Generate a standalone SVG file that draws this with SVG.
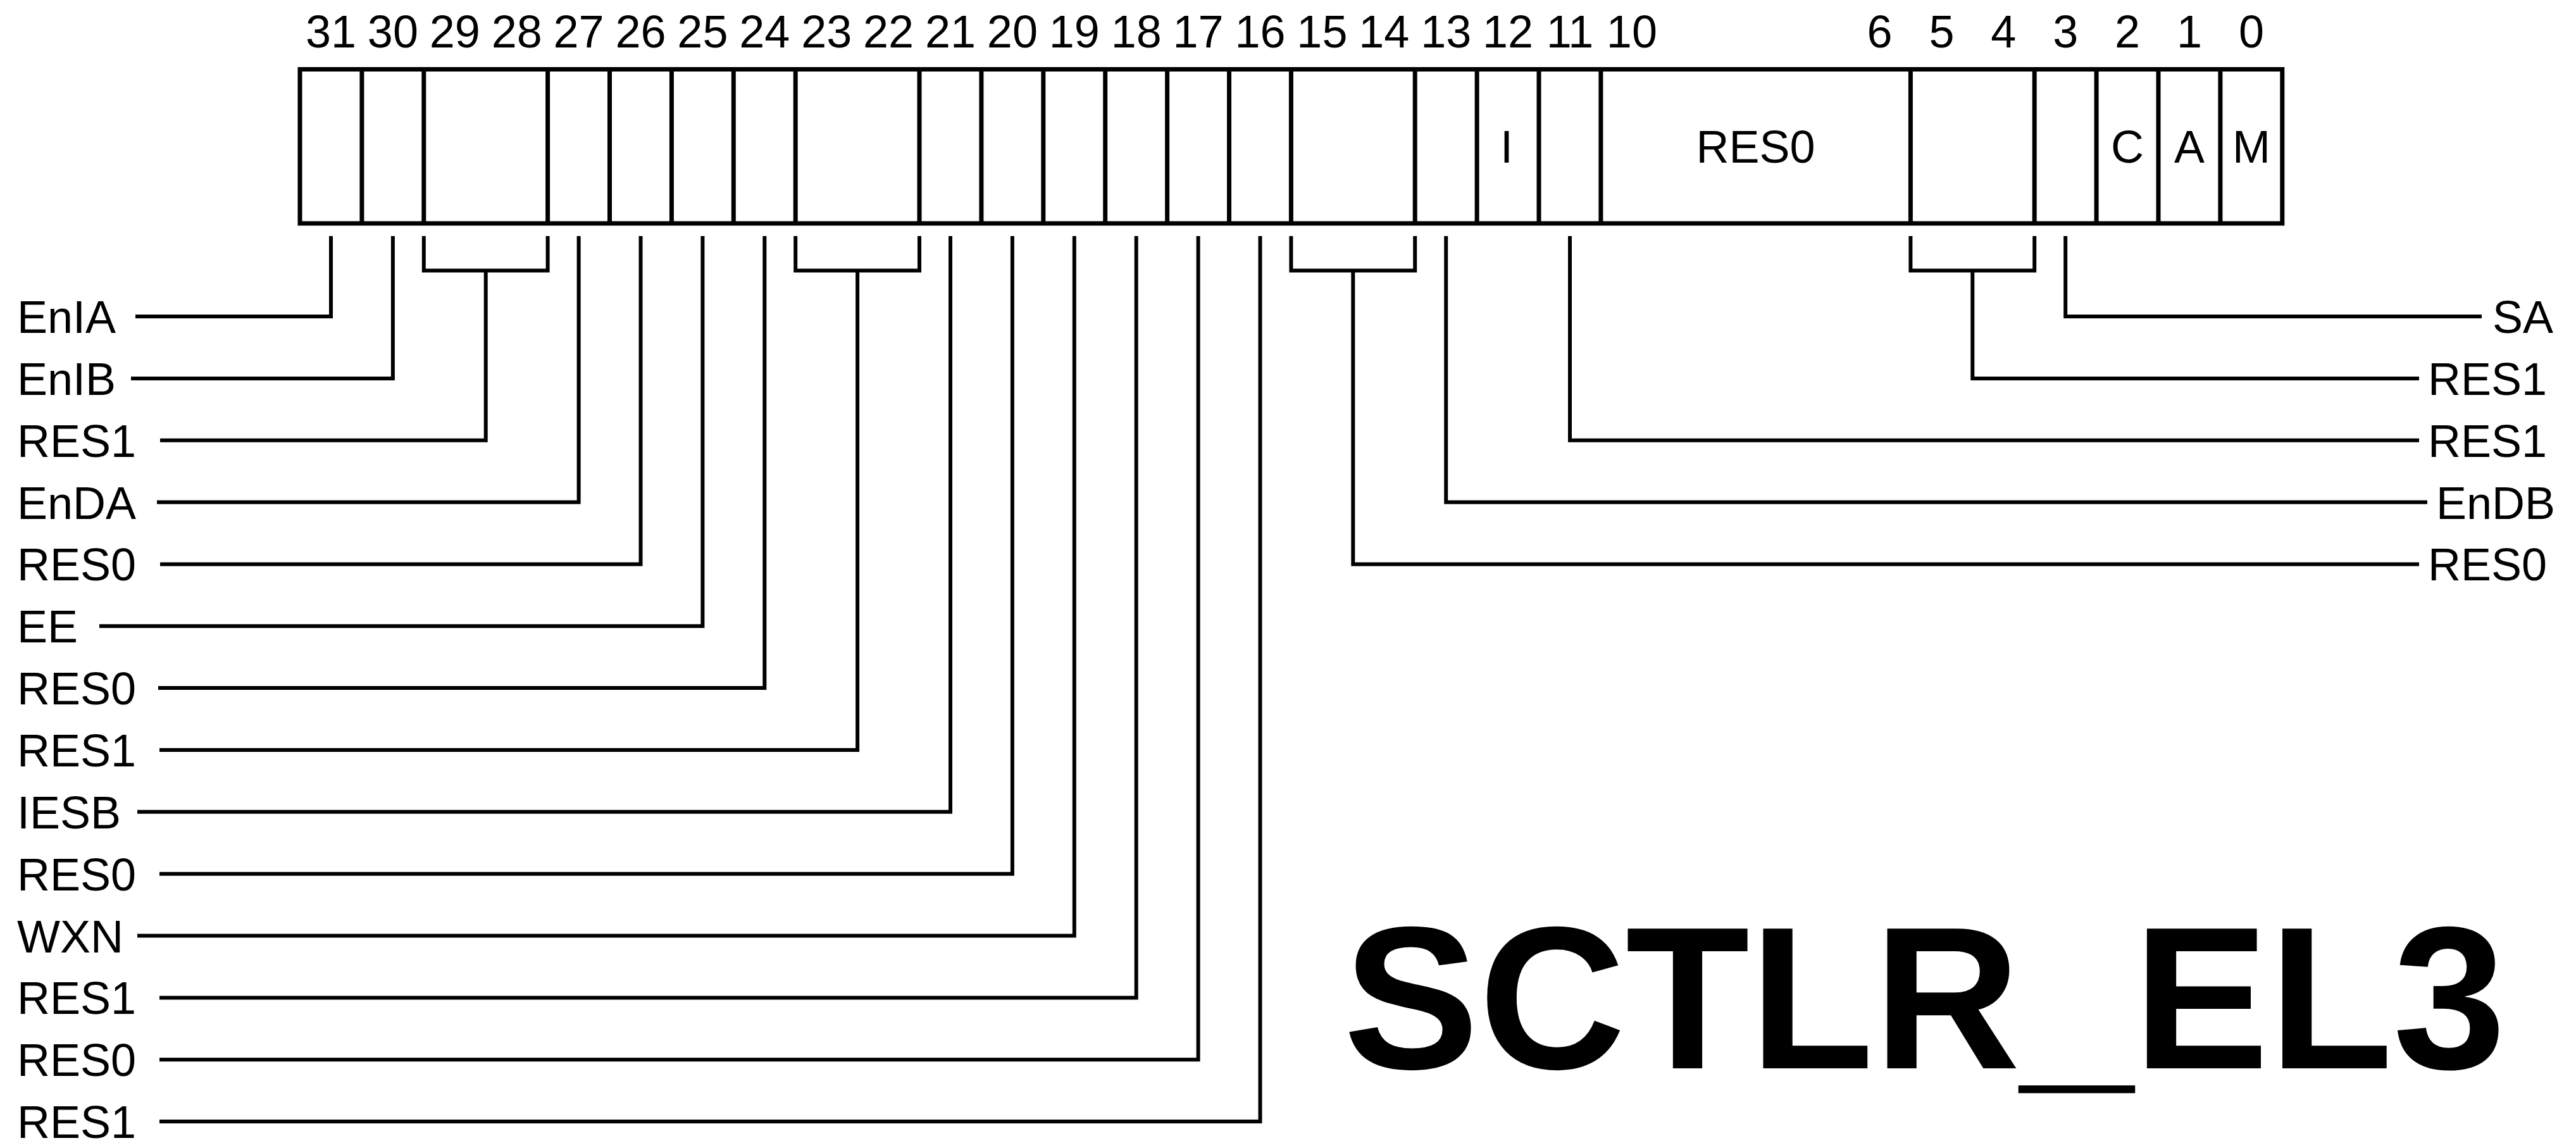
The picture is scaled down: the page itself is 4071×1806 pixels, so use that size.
<svg xmlns="http://www.w3.org/2000/svg" width="4071" height="1806" viewBox="0 0 4071 1806">
<style>
text{font-family:"Liberation Sans",Arial,sans-serif;fill:#000}
.n{font-size:72px;text-anchor:middle}
.l{font-size:72px}
.r{font-size:72px}
.t{font-size:321px;font-weight:bold}
.box{fill:#fff;stroke:#000;stroke-width:7}
.div{stroke:#000;stroke-width:7}
.c{fill:none;stroke:#000;stroke-width:6;stroke-linejoin:miter;stroke-linecap:butt}
</style>
<rect width="4071" height="1806" fill="#fff"/>
<g id="register">
<rect class="box" x="474" y="109.5" width="3132.8" height="243.5"/>
<g class="div">
<line x1="571.9" y1="109.5" x2="571.9" y2="353"/>
<line x1="669.8" y1="109.5" x2="669.8" y2="353"/>
<line x1="865.6" y1="109.5" x2="865.6" y2="353"/>
<line x1="963.5" y1="109.5" x2="963.5" y2="353"/>
<line x1="1061.4" y1="109.5" x2="1061.4" y2="353"/>
<line x1="1159.3" y1="109.5" x2="1159.3" y2="353"/>
<line x1="1257.2" y1="109.5" x2="1257.2" y2="353"/>
<line x1="1453" y1="109.5" x2="1453" y2="353"/>
<line x1="1550.9" y1="109.5" x2="1550.9" y2="353"/>
<line x1="1648.8" y1="109.5" x2="1648.8" y2="353"/>
<line x1="1746.7" y1="109.5" x2="1746.7" y2="353"/>
<line x1="1844.6" y1="109.5" x2="1844.6" y2="353"/>
<line x1="1942.5" y1="109.5" x2="1942.5" y2="353"/>
<line x1="2040.4" y1="109.5" x2="2040.4" y2="353"/>
<line x1="2236.2" y1="109.5" x2="2236.2" y2="353"/>
<line x1="2334.1" y1="109.5" x2="2334.1" y2="353"/>
<line x1="2432" y1="109.5" x2="2432" y2="353"/>
<line x1="2529.9" y1="109.5" x2="2529.9" y2="353"/>
<line x1="3019.4" y1="109.5" x2="3019.4" y2="353"/>
<line x1="3215.2" y1="109.5" x2="3215.2" y2="353"/>
<line x1="3313.1" y1="109.5" x2="3313.1" y2="353"/>
<line x1="3411" y1="109.5" x2="3411" y2="353"/>
<line x1="3508.9" y1="109.5" x2="3508.9" y2="353"/>
</g>
<g id="bit-numbers">
<text class="n" x="523" y="75">31</text>
<text class="n" x="620.9" y="75">30</text>
<text class="n" x="718.8" y="75">29</text>
<text class="n" x="816.7" y="75">28</text>
<text class="n" x="914.6" y="75">27</text>
<text class="n" x="1012.5" y="75">26</text>
<text class="n" x="1110.4" y="75">25</text>
<text class="n" x="1208.3" y="75">24</text>
<text class="n" x="1306.2" y="75">23</text>
<text class="n" x="1404.1" y="75">22</text>
<text class="n" x="1502" y="75">21</text>
<text class="n" x="1599.9" y="75">20</text>
<text class="n" x="1697.8" y="75">19</text>
<text class="n" x="1795.7" y="75">18</text>
<text class="n" x="1893.6" y="75">17</text>
<text class="n" x="1991.5" y="75">16</text>
<text class="n" x="2089.4" y="75">15</text>
<text class="n" x="2187.3" y="75">14</text>
<text class="n" x="2285.2" y="75">13</text>
<text class="n" x="2383.1" y="75">12</text>
<text class="n" x="2481" y="75">11</text>
<text class="n" x="2578.9" y="75">10</text>
<text class="n" x="2970.5" y="75">6</text>
<text class="n" x="3068.4" y="75">5</text>
<text class="n" x="3166.3" y="75">4</text>
<text class="n" x="3264.2" y="75">3</text>
<text class="n" x="3362.1" y="75">2</text>
<text class="n" x="3460" y="75">1</text>
<text class="n" x="3557.9" y="75">0</text>
</g>
<g id="field-names">
<text class="n" x="2381" y="257">I</text>
<text class="n" x="2774.6" y="257">RES0</text>
<text class="n" x="3362.1" y="257">C</text>
<text class="n" x="3460" y="257">A</text>
<text class="n" x="3557.9" y="257">M</text>
</g>
</g>
<g id="connectors" class="c">
<path d="M214,500 H523 V373"/>
<path d="M207,597.9 H620.9 V373"/>
<path d="M669.8,373 V427.5 H865.6 V373 M253,695.7 H767.7 V427.5"/>
<path d="M248,793.6 H914.6 V373"/>
<path d="M253,891.4 H1012.5 V373"/>
<path d="M157,989.3 H1110.4 V373"/>
<path d="M250,1087.1 H1208.3 V373"/>
<path d="M1257.2,373 V427.5 H1453 V373 M252,1185 H1355.1 V427.5"/>
<path d="M217,1282.8 H1502 V373"/>
<path d="M252,1380.7 H1599.9 V373"/>
<path d="M217,1478.5 H1697.8 V373"/>
<path d="M252,1576.4 H1795.7 V373"/>
<path d="M252,1674.2 H1893.6 V373"/>
<path d="M252,1772 H1991.5 V373"/>
<path d="M3264.2,373 V500 H3922"/>
<path d="M3019.4,373 V427.5 H3215.2 V373 M3117.3,427.5 V597.9 H3823"/>
<path d="M2481,373 V695.7 H3823"/>
<path d="M2285.2,373 V793.6 H3836"/>
<path d="M2040.4,373 V427.5 H2236.2 V373 M2138.3,427.5 V891.4 H3823"/>
</g>
<g id="label-EnIA"><text class="l" x="27" y="526">EnIA</text></g>
<g id="label-EnIB"><text class="l" x="27" y="623.9">EnIB</text></g>
<g id="label-RES1-29-28"><text class="l" x="27" y="721.7">RES1</text></g>
<g id="label-EnDA"><text class="l" x="27" y="819.6">EnDA</text></g>
<g id="label-RES0-26"><text class="l" x="27" y="917.4">RES0</text></g>
<g id="label-EE"><text class="l" x="27" y="1015.3">EE</text></g>
<g id="label-RES0-24"><text class="l" x="27" y="1113.1">RES0</text></g>
<g id="label-RES1-23-22"><text class="l" x="27" y="1211">RES1</text></g>
<g id="label-IESB"><text class="l" x="27" y="1308.8">IESB</text></g>
<g id="label-RES0-20"><text class="l" x="27" y="1406.7">RES0</text></g>
<g id="label-WXN"><text class="l" x="27" y="1504.5">WXN</text></g>
<g id="label-RES1-18"><text class="l" x="27" y="1602.4">RES1</text></g>
<g id="label-RES0-17"><text class="l" x="27" y="1700.2">RES0</text></g>
<g id="label-RES1-16"><text class="l" x="27" y="1798">RES1</text></g>
<g id="label-SA"><text class="r" x="3939" y="526">SA</text></g>
<g id="label-RES1-5-4"><text class="r" x="3837" y="623.9">RES1</text></g>
<g id="label-RES1-11"><text class="r" x="3837" y="721.7">RES1</text></g>
<g id="label-EnDB"><text class="r" x="3850" y="819.6">EnDB</text></g>
<g id="label-RES0-15-14"><text class="r" x="3837" y="917.4">RES0</text></g>
<g id="title"><text class="t" x="2123" y="1688">SCTLR_EL3</text></g>
</svg>
